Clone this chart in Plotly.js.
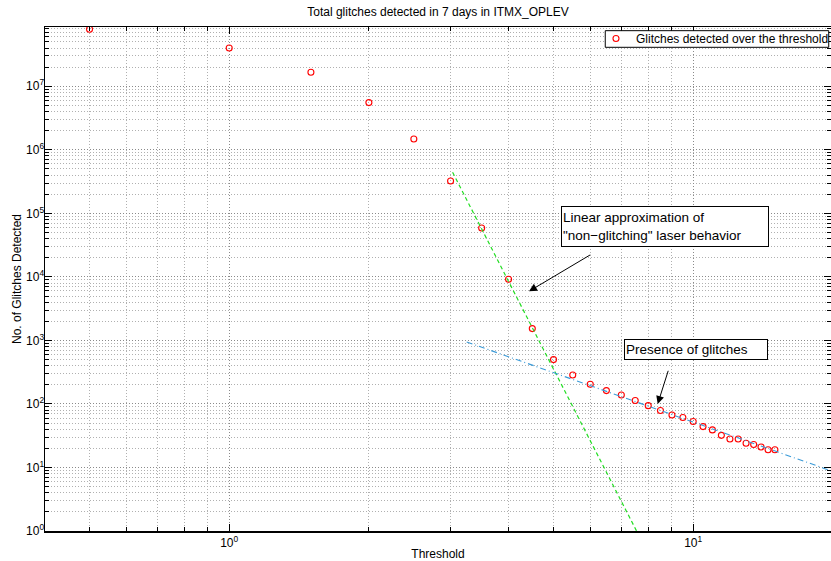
<!DOCTYPE html>
<html><head><meta charset="utf-8">
<script src="https://cdn.plot.ly/plotly-3.0.1.min.js"></script>
<style>html,body{margin:0;padding:0;background:#fff;overflow:hidden}#chart{width:831px;height:561px}</style>
</head><body><div id="chart"></div>
<script>
// ---- data ----
const thresholds = [0.5,1,1.5,2,2.5,3,3.5,4,4.5,5,5.5,6,6.5,7,7.5,8,8.5,9,9.5,10,10.5,11,11.5,12,12.5,13,13.5,14,14.5,15];
const glitchCounts = [7.9e7,4.0e7,1.66e7,5.53e6,1.48e6,3.23e5,5.88e4,9160,1535,499,286,204,162,138,113,94,79,67,61,53,44,39,32,28,28,24,23,21,19,19];
const steepFitX = [3.03, 7.6];
const steepFitY = [4.43e5, 0.91];
const glitchFitX = [3.25, 20];
const glitchFitY = [946, 8.65];
const xTickVals = [1, 10];
const xTickText = ['10<sup>0</sup>', '10<sup>1</sup>'];
const yTickVals = [1,10,100,1000,1e4,1e5,1e6,1e7];
const yTickText = ['10<sup>0</sup>','10<sup>1</sup>','10<sup>2</sup>','10<sup>3</sup>','10<sup>4</sup>','10<sup>5</sup>','10<sup>6</sup>','10<sup>7</sup>'];

// ---- minor tick positions ----
function minorVals(lo, hi, d0, d1) {
  const out = [];
  for (let d = d0; d <= d1; d++) for (let m = 2; m <= 9; m++) {
    const v = m * Math.pow(10, d);
    if (v > lo * 1.001 && v < hi * 0.999) out.push(v);
  }
  return out;
}
const xMin = Math.pow(10, -0.397), xMax = Math.pow(10, 1.297);
const yMax = Math.pow(10, 7.933);

const font = 'Liberation Sans, Arial, Helvetica, sans-serif';
const gridMajor = '#8a8a8a', gridMinor = '#b0b0b0';

const traces = [
  {x: thresholds, y: glitchCounts, type: 'scatter', mode: 'markers',
   name: 'Glitches detected over the threshold',
   marker: {symbol: 'circle-open', size: 6, color: '#ff0000', line: {width: 1.1, color: '#ff0000'}}},
  {x: steepFitX, y: steepFitY, type: 'scatter', mode: 'lines', showlegend: false,
   line: {color: '#22dd22', width: 1.2, dash: '4px,3px'}, hoverinfo: 'skip'},
  {x: glitchFitX, y: glitchFitY, type: 'scatter', mode: 'lines', showlegend: false,
   line: {color: '#3b9bd8', width: 1.1, dash: '6px,3px,1px,3px'}, hoverinfo: 'skip'}
];

const axisCommon = {
  type: 'log', showline: true, linecolor: '#000', linewidth: 1.5, mirror: 'allticks',
  ticks: 'inside', ticklen: 7, tickcolor: '#000', tickwidth: 1,
  showgrid: true, gridcolor: gridMajor, griddash: '1px,2px', gridwidth: 1,
  zeroline: false, tickmode: 'array', automargin: false,
  tickfont: {family: font, size: 12, color: '#000'}
};

const layout = {
  width: 831, height: 561,
  margin: {l: 45, r: 0, t: 27, b: 30, pad: 0, autoexpand: false},
  paper_bgcolor: '#fff', plot_bgcolor: '#fff',
  font: {family: font, size: 12, color: '#000'},
  title: {text: 'Total glitches detected in 7 days in ITMX_OPLEV', font: {family: font, size: 12, color: '#000'},
          x: 0.5, xref: 'paper', xanchor: 'center', y: 1 - 12/561, yref: 'container', yanchor: 'middle'},
  xaxis: Object.assign({}, axisCommon, {
    range: [-0.397, 1.297], tickvals: xTickVals, ticktext: xTickText,
    title: {text: 'Threshold', font: {family: font, size: 12, color: '#000'}, standoff: 8},
    minor: {tickmode: 'array', tickvals: minorVals(xMin, xMax, -1, 1), ticks: 'inside', ticklen: 4,
            tickcolor: '#000', showgrid: true, gridcolor: gridMinor, griddash: '1px,2px', gridwidth: 1}
  }),
  yaxis: Object.assign({}, axisCommon, {
    range: [0, 7.933], tickvals: yTickVals, ticktext: yTickText, ticklabelstandoff: -3,
    title: {text: 'No. of Glitches Detected', font: {family: font, size: 12, color: '#000'}, standoff: 2},
    minor: {tickmode: 'array', tickvals: minorVals(1, yMax, 0, 7), ticks: 'inside', ticklen: 4,
            tickcolor: '#000', showgrid: true, gridcolor: gridMinor, griddash: '1px,2px', gridwidth: 1}
  }),
  showlegend: true,
  legend: {x: 0.701, y: 1.006, xanchor: 'left', yanchor: 'top', bgcolor: 'rgba(0,0,0,0)', borderwidth: 0,
           font: {family: font, size: 12, color: '#000'}, itemwidth: 30},
  shapes: [
    {type: 'rect', xref: 'paper', yref: 'paper', x0: 0.7128, x1: 0.9971, y0: 0.9597, y1: 0.9927,
     fillcolor: '#fff', line: {color: '#000', width: 1}, layer: 'above'}
  ],
  annotations: [
    {xref: 'paper', yref: 'paper', x: 0.7888, y: 0.6046, xanchor: 'center', yanchor: 'middle', showarrow: false,
     text: 'Linear approximation of<br>"non\u2212glitching" laser behavior', align: 'left',
     width: 204, height: 37, bgcolor: '#fff', bordercolor: '#000', borderwidth: 1, borderpad: 1,
     font: {family: font, size: 13.5, color: '#000'}},
    {xref: 'paper', yref: 'paper', x: 0.6158, y: 0.4756, text: '', showarrow: true,
     ax: 62.7, ay: -37.3, arrowhead: 2, arrowsize: 1.6, arrowwidth: 1, arrowcolor: '#000'},
    {xref: 'paper', yref: 'paper', x: 0.8285, y: 0.3597, xanchor: 'center', yanchor: 'middle', showarrow: false,
     text: 'Presence of glitches', align: 'left',
     width: 140, height: 17, bgcolor: '#fff', bordercolor: '#000', borderwidth: 1, borderpad: 1,
     font: {family: font, size: 13.5, color: '#000'}},
    {xref: 'paper', yref: 'paper', x: 0.7795, y: 0.252, text: '', showarrow: true,
     ax: 11, ay: -34.7, arrowhead: 2, arrowsize: 1.6, arrowwidth: 1, arrowcolor: '#000'}
  ]
};

Plotly.newPlot('chart', traces, layout, {staticPlot: true, displayModeBar: false});
</script>
</body></html>
